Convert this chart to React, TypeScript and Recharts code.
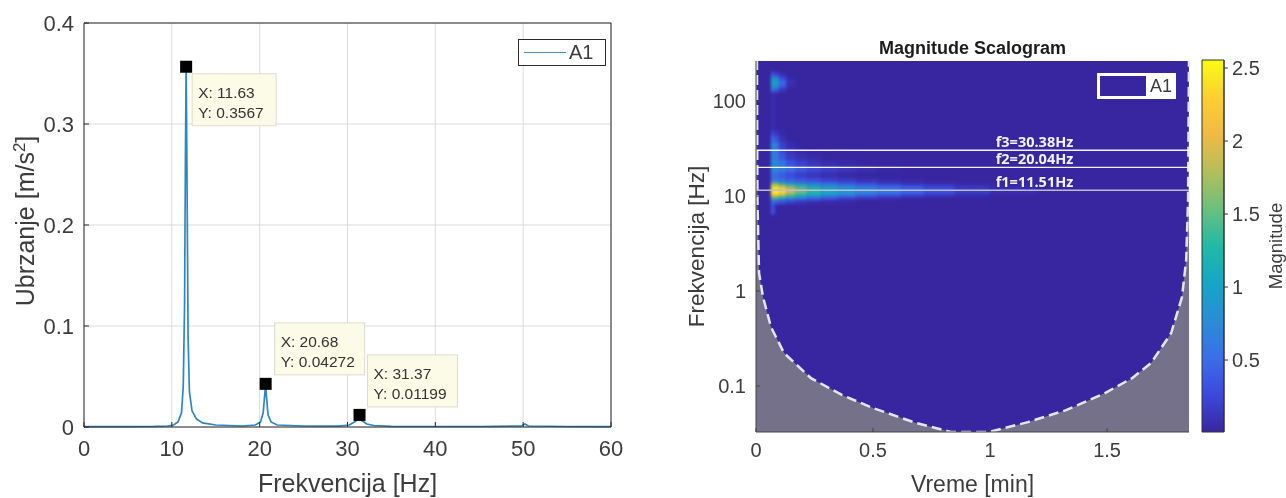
import {
  Area,
  CartesianGrid,
  ComposedChart,
  Label,
  Legend,
  Line,
  ReferenceArea,
  ReferenceDot,
  ReferenceLine,
  Scatter,
  XAxis,
  YAxis,
} from "recharts";

const FONT = "'Liberation Sans', Arial, sans-serif";
const TEXT = "#3c3c3c";

// Spectrum (left panel)
const spectrumFreq = [0, 5, 8, 9.5, 10.2, 10.7, 11.1, 11.3, 11.45, 11.55, 11.63, 11.72, 11.85, 12.0, 12.3, 12.8, 13.5, 15, 18, 19.5, 20.1, 20.4, 20.58, 20.68, 20.78, 20.95, 21.3, 22, 25, 29, 30.2, 30.8, 31.1, 31.37, 31.7, 32.2, 33, 35, 45, 49.8, 50.2, 50.6, 55, 60];
const spectrumAmp = [0.0003, 0.0004, 0.0006, 0.001, 0.002, 0.005, 0.014, 0.04, 0.12, 0.27, 0.3567, 0.26, 0.09, 0.035, 0.016, 0.008, 0.004, 0.002, 0.001, 0.002, 0.005, 0.014, 0.032, 0.04272, 0.03, 0.012, 0.005, 0.002, 0.001, 0.0009, 0.002, 0.005, 0.007, 0.0075, 0.006, 0.003, 0.0015, 0.0006, 0.0005, 0.001, 0.003, 0.001, 0.0005, 0.0004];
const peakFreq = [11.63, 20.68, 31.37];
const peakAmp = [0.3567, 0.04272, 0.01199];
const freqTicks = [0, 10, 20, 30, 40, 50, 60];
const ampTicks = [0, 0.1, 0.2, 0.3, 0.4];

// Where each data tip box sits relative to its marker
const tipOffsets = [
  { dx: 6, dy: 7 },
  { dx: 9, dy: -61 },
  { dx: 8, dy: -60 },
];

// Scalogram (right panel)
const timeEdges = [0.064, 0.08, 0.1, 0.13, 0.17, 0.22, 0.28, 0.35, 0.43, 0.52, 0.62, 0.72, 0.85, 1.0, 1.2];
const scaleEdges = [6.4, 8.2, 9.1, 9.8, 10.5, 11.3, 12.1, 13, 14, 15.5, 17.9, 20.7, 24, 27.7, 32, 37, 43, 49, 124, 137, 151, 166, 183, 202];
const magnitudeRows = [
  [0.35, 0, 0, 0, 0, 0, 0, 0, 0, 0, 0, 0, 0, 0],
  [0.5, 0.4, 0.3, 0.2, 0.12, 0.08, 0.04, 0.02, 0, 0, 0, 0, 0, 0],
  [1.4, 1.3, 1.05, 0.8, 0.6, 0.45, 0.32, 0.2, 0.12, 0.06, 0.02, 0, 0, 0],
  [2.2, 2.1, 1.75, 1.4, 1.15, 0.95, 0.75, 0.58, 0.42, 0.3, 0.2, 0.12, 0.05, 0],
  [2.55, 2.55, 2.35, 1.85, 1.5, 1.25, 1.05, 0.88, 0.72, 0.58, 0.44, 0.3, 0.17, 0.06],
  [2.55, 2.55, 2.4, 1.95, 1.6, 1.32, 1.12, 0.95, 0.78, 0.65, 0.5, 0.35, 0.2, 0.08],
  [2.5, 2.45, 2.1, 1.65, 1.35, 1.12, 0.95, 0.78, 0.62, 0.48, 0.35, 0.24, 0.12, 0.04],
  [1.7, 1.55, 1.25, 1.0, 0.8, 0.65, 0.52, 0.4, 0.28, 0.18, 0.1, 0.05, 0.02, 0],
  [0.65, 0.6, 0.5, 0.42, 0.35, 0.27, 0.2, 0.14, 0.08, 0.04, 0.02, 0, 0, 0],
  [0.55, 0.5, 0.4, 0.28, 0.18, 0.12, 0.07, 0.03, 0, 0, 0, 0, 0, 0],
  [0.8, 0.75, 0.65, 0.5, 0.35, 0.25, 0.18, 0.12, 0.07, 0.03, 0, 0, 0, 0],
  [0.85, 0.75, 0.55, 0.3, 0.18, 0.1, 0.05, 0.02, 0, 0, 0, 0, 0, 0],
  [0.7, 0.6, 0.35, 0.15, 0.08, 0.04, 0, 0, 0, 0, 0, 0, 0, 0],
  [0.75, 0.6, 0.25, 0.1, 0.03, 0, 0, 0, 0, 0, 0, 0, 0, 0],
  [0.85, 0.6, 0.2, 0.05, 0, 0, 0, 0, 0, 0, 0, 0, 0, 0],
  [0.5, 0.3, 0.08, 0, 0, 0, 0, 0, 0, 0, 0, 0, 0, 0],
  [0.25, 0.12, 0.03, 0, 0, 0, 0, 0, 0, 0, 0, 0, 0, 0],
  [0.05, 0, 0, 0, 0, 0, 0, 0, 0, 0, 0, 0, 0, 0],
  [0.55, 0.35, 0.1, 0, 0, 0, 0, 0, 0, 0, 0, 0, 0, 0],
  [1.05, 0.85, 0.4, 0.05, 0, 0, 0, 0, 0, 0, 0, 0, 0, 0],
  [1.15, 1.0, 0.5, 0.08, 0, 0, 0, 0, 0, 0, 0, 0, 0, 0],
  [0.9, 0.7, 0.25, 0.03, 0, 0, 0, 0, 0, 0, 0, 0, 0, 0],
  [0.35, 0.2, 0.05, 0, 0, 0, 0, 0, 0, 0, 0, 0, 0, 0],
];

// Cone of influence boundary
const coiTime = [0, 0.004, 0.006, 0.013, 0.03, 0.064, 0.12, 0.235, 0.367, 0.5, 0.684, 0.833, 0.996, 1.162, 1.325, 1.491, 1.607, 1.688, 1.774, 1.82, 1.838, 1.846, 1.85];
const coiFreq = [264, 264, 9.1, 1.55, 0.864, 0.418, 0.222, 0.121, 0.0805, 0.0586, 0.0408, 0.0328, 0.0328, 0.0417, 0.0557, 0.0843, 0.121, 0.175, 0.361, 0.864, 2.12, 9.1, 264];

const modeFreq = [30.38, 20.04, 11.51];
const modeLabels = ["f3=30.38Hz", "f2=20.04Hz", "f1=11.51Hz"];
const timeTicks = [0, 0.5, 1, 1.5];
const scaleTicks = [0.1, 1, 10, 100];
const colorTicks = [0.5, 1, 1.5, 2, 2.5];

const T_MAX = 1.85;
const F_MIN = 0.0328;
const F_MAX = 264;
const C_MIN = 0.007;
const C_MAX = 2.555;

const PARULA = ["#3826a1", "#3c49dc", "#3a6fe8", "#2a8dd6", "#15a6c6", "#21b9a6", "#6bc07e", "#b5be5a", "#f0ba45", "#fccf30", "#f9fb15"];

function parula(m: number) {
  const p = Math.min(Math.max(m / C_MAX, 0), 1) * (PARULA.length - 1);
  const i = Math.min(Math.floor(p), PARULA.length - 2);
  const mix = (s: string, e: string) =>
    Math.round(parseInt(s, 16) + (parseInt(e, 16) - parseInt(s, 16)) * (p - i));
  const a = PARULA[i];
  const b = PARULA[i + 1];
  return `rgb(${mix(a.slice(1, 3), b.slice(1, 3))},${mix(a.slice(3, 5), b.slice(3, 5))},${mix(a.slice(5, 7), b.slice(5, 7))})`;
}

const spectrum = spectrumFreq.map((x, i) => ({ x, y: spectrumAmp[i] }));
const peaks = peakFreq.map((x, i) => ({ x, y: peakAmp[i], i }));
const coi = coiTime.map((t, i) => ({ t, f: coiFreq[i], band: [F_MIN, coiFreq[i]] }));

const tickStyle = { fontSize: 22, fill: TEXT, fontFamily: FONT };
const scaloTick = { fontSize: 20, fill: TEXT, fontFamily: FONT };
const axisColor = "#2b2b2b";

function PeakMarker(props: any) {
  const { cx, cy, payload } = props;
  const { dx, dy } = tipOffsets[payload.i];
  const x = cx + dx;
  const y = cy + dy;
  return (
    <g>
      <rect x={cx - 6} y={cy - 6} width={12} height={12} fill="#000" />
      <rect x={x} y={y} width={payload.i === 0 ? 84 : 90} height={52} fill="#fbfbe8" stroke="#dcdccb" />
      <text x={x + 6} y={y + 24} fontSize={15.5} fill="#333" fontFamily={FONT}>{`X: ${payload.x}`}</text>
      <text x={x + 6} y={y + 44} fontSize={15.5} fill="#333" fontFamily={FONT}>{`Y: ${payload.y}`}</text>
    </g>
  );
}

function UbrzanjeLabel(props: any) {
  const { viewBox } = props;
  const cy = viewBox.y + viewBox.height / 2 - 4;
  return (
    <text x={34} y={cy} transform={`rotate(-90 34 ${cy})`} textAnchor="middle" fontSize={25} fill={TEXT} fontFamily={FONT}>
      <tspan>Ubrzanje [m/s</tspan>
      <tspan dy={-9} fontSize={17}>2</tspan>
      <tspan dy={9}>]</tspan>
    </text>
  );
}

function SpectrumLegend() {
  return (
    <div style={{ width: 88, height: 27, boxSizing: "border-box", border: "1px solid #2b2b2b", background: "#fff", display: "flex", alignItems: "center", fontFamily: FONT, fontSize: 20, color: TEXT }}>
      <span style={{ width: 42, height: 1, background: "#3c94c4", margin: "0 3px 0 5px" }} />
      A1
    </div>
  );
}

function ScalogramLegend() {
  return (
    <div style={{ width: 79, height: 26, boxSizing: "border-box", border: "3px solid #fff", background: "#fff", display: "flex", alignItems: "center", fontFamily: FONT, fontSize: 18, color: TEXT }}>
      <span style={{ width: 46, height: 20, background: "#3826a1", marginRight: 4 }} />
      A1
    </div>
  );
}

export default function App() {
  const heatMargin = { top: 61, right: 97, bottom: 66, left: 116 };
  return (
    <div style={{ position: "absolute", left: 0, top: 0, width: 1286, height: 498, background: "#fff", overflow: "hidden", filter: "blur(0.35px)" }}>
      {/* Spectrum */}
      <div style={{ position: "absolute", left: 0, top: 0 }}>
        <ComposedChart width={640} height={498} data={spectrum} margin={{ top: 22, right: 28, bottom: 31, left: 4 }}>
          <CartesianGrid stroke="#dcdcdc" horizontalValues={ampTicks} verticalValues={freqTicks} />
          <XAxis dataKey="x" type="number" domain={[0, 60]} ticks={freqTicks} height={40} stroke={axisColor} tickSize={-5} tickMargin={18} tick={tickStyle} interval={0}>
            <Label value="Frekvencija [Hz]" position="bottom" offset={7} style={{ fontSize: 25, fill: TEXT, fontFamily: FONT }} />
          </XAxis>
          <XAxis xAxisId="top" orientation="top" type="number" domain={[0, 60]} ticks={freqTicks} height={1} stroke={axisColor} tickSize={-5} tick={false} />
          <YAxis type="number" domain={[0, 0.4]} ticks={ampTicks} width={80} stroke={axisColor} tickSize={-5} tickMargin={15} tick={tickStyle} interval={0}>
            <Label content={<UbrzanjeLabel />} />
          </YAxis>
          <YAxis yAxisId="right" orientation="right" type="number" domain={[0, 0.4]} ticks={ampTicks} width={1} stroke={axisColor} tickSize={-5} tick={false} />
          <Legend content={<SpectrumLegend />} layout="vertical" align="center" verticalAlign="middle" wrapperStyle={{ left: 518, top: 39, width: 88, bottom: "auto" }} />
          <Line dataKey="y" stroke="#2f86bf" strokeWidth={1.7} dot={false} isAnimationActive={false} />
          <Scatter data={peaks} dataKey="y" shape={<PeakMarker />} isAnimationActive={false} />
        </ComposedChart>
      </div>

      {/* Scalogram cells, softened to read like the interpolated image */}
      <div style={{ position: "absolute", left: 756, top: 61, width: 433, height: 371, overflow: "hidden", background: "#3826a1" }}>
        <div style={{ position: "absolute", left: -116, top: -61, filter: "blur(1.8px)" }}>
          <ComposedChart width={646} height={498} data={coi} margin={heatMargin}>
            <XAxis dataKey="t" type="number" domain={[0, T_MAX]} hide />
            <YAxis type="number" scale="log" domain={[F_MIN, F_MAX]} width={0} hide allowDataOverflow />
            {magnitudeRows.map((row, r) =>
              row.map((m, c) =>
                m > 0 ? (
                  <ReferenceArea
                    key={`${r}-${c}`}
                    x1={timeEdges[c]}
                    x2={timeEdges[c + 1]}
                    y1={scaleEdges[r]}
                    y2={scaleEdges[r + 1]}
                    fill={parula(m)}
                    fillOpacity={1}
                    stroke="none"
                  />
                ) : null,
              ),
            )}
          </ComposedChart>
        </div>
      </div>

      {/* Scalogram axes and overlays */}
      <div style={{ position: "absolute", left: 640, top: 0 }}>
        <ComposedChart width={646} height={498} data={coi} margin={{ top: 61, right: 97, bottom: 26, left: 36 }}>
          <Area dataKey="band" stroke="none" fill="#76718b" fillOpacity={1} isAnimationActive={false} dot={false} activeDot={false} />
          <XAxis dataKey="t" type="number" domain={[0, T_MAX]} ticks={timeTicks} height={40} stroke="#444" tickSize={-4} tickMargin={15} tick={scaloTick} interval={0}>
            <Label value="Vreme [min]" position="bottom" offset={4} style={{ fontSize: 23, fill: TEXT, fontFamily: FONT }} />
          </XAxis>
          <YAxis type="number" scale="log" domain={[F_MIN, F_MAX]} ticks={scaleTicks} width={80} stroke="#444" tickSize={-4} tickMargin={14} tick={scaloTick} interval={0} allowDataOverflow>
            <Label value="Frekvencija [Hz]" angle={-90} position="left" offset={-20} style={{ fontSize: 22.5, fill: TEXT, fontFamily: FONT, textAnchor: "middle" }} />
          </YAxis>
          <Line dataKey="f" stroke="#e4e4f2" strokeWidth={2.5} strokeDasharray="10 5" dot={false} isAnimationActive={false} />
          {modeFreq.map((f, i) => (
            <ReferenceLine key={f} y={f} stroke={i === 2 ? "#bdbbd6" : "#f4f4fa"} strokeWidth={1.4} />
          ))}
          {modeFreq.map((f, i) => (
            <ReferenceDot key={modeLabels[i]} x={1.19} y={f} r={0} fill="none" stroke="none">
              <Label value={modeLabels[i]} position="top" offset={3} style={{ fontSize: 14.5, fontWeight: 700, fill: "#f2f2fa", fontFamily: "'Open Sans', sans-serif" }} />
            </ReferenceDot>
          ))}
          <Legend content={<ScalogramLegend />} layout="vertical" align="center" verticalAlign="middle" wrapperStyle={{ left: 457, top: 73, width: 79, bottom: "auto" }} />
        </ComposedChart>
        <div style={{ position: "absolute", left: 116, top: 38, width: 433, textAlign: "center", fontFamily: FONT, fontWeight: 700, fontSize: 18, color: "#1c1c1c" }}>
          Magnitude Scalogram
        </div>
      </div>

      {/* Colorbar */}
      <div style={{ position: "absolute", left: 1190, top: 0 }}>
        <ComposedChart width={96} height={498} data={[{ x: 0 }, { x: 1 }]} margin={{ top: 60, right: 0, bottom: 66, left: 12 }}>
          <defs>
            <linearGradient id="parula" x1="0" y1="1" x2="0" y2="0">
              {PARULA.map((c, i) => (
                <stop key={c} offset={i / (PARULA.length - 1)} stopColor={c} />
              ))}
            </linearGradient>
          </defs>
          <XAxis dataKey="x" type="number" domain={[0, 1]} hide />
          <YAxis orientation="right" type="number" domain={[C_MIN, C_MAX]} ticks={colorTicks} width={62} stroke="#333" tickSize={4} tickMargin={4} tick={{ fontSize: 20, fill: TEXT, fontFamily: FONT }} interval={0} allowDataOverflow>
            <Label value="Magnitude" angle={-90} position="right" offset={-11} style={{ fontSize: 18.5, fill: TEXT, fontFamily: FONT, textAnchor: "middle" }} />
          </YAxis>
          <ReferenceArea y1={C_MIN} y2={C_MAX} fill="url(#parula)" fillOpacity={1} stroke="#333" />
        </ComposedChart>
      </div>
    </div>
  );
}
